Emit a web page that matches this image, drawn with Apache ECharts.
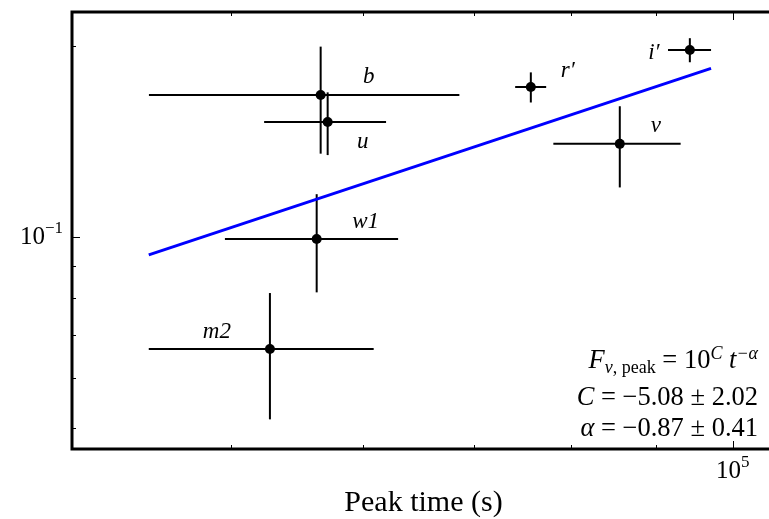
<!DOCTYPE html>
<html>
<head>
<meta charset="utf-8">
<script src="https://cdn.jsdelivr.net/npm/echarts@6/dist/echarts.min.js"></script>
<style>
  html, body { margin: 0; padding: 0; background: #fff; }
  #chart { width: 769px; height: 519px; }
</style>
</head>
<body>
<div id="chart"></div>
<script>
// Peak time and peak flux density per photometric band
const bands       = ['b', 'u', 'w1', 'm2', 'r′', 'i′', 'v'];
const peakTime    = [56600, 57150, 56290, 52770, 75660, 94240, 85550];
const peakTimeErr = [11950, 4800, 6700, 8130, 1620, 2800, 7500];
const peakFlux    = [0.1674, 0.1518, 0.0993, 0.0666, 0.1723, 0.1971, 0.1402];
const peakFluxErr = [0.0321, 0.0172, 0.0175, 0.0150, 0.0094, 0.0086, 0.0205];

// Power-law fit  F = 10^C t^-alpha
const fitC = -5.078;
const fitCErr = 2.02;
const fitAlpha = -0.871;
const fitAlphaErr = 0.41;

// Axis limits and tick positions (data units)
const xAxisRange  = [4.015e4, 1.06e5];
const yAxisRange  = [0.04634, 0.2262];
const xMajorTicks = [1e5];
const xMinorTicks = [5e4, 6e4, 7e4, 8e4, 9e4];
const yMajorTicks = [0.1];
const yMinorTicks = [0.05, 0.06, 0.07, 0.08, 0.09, 0.2];

// Band label placement relative to each point (pixels)
const labelOffset = {
  'b': [48, -18], 'u': [35, 20], 'w1': [49, -17], 'm2': [-53, -17],
  'r′': [37, -16], 'i′': [-36, 3], 'v': [36, -18]
};

const lg = Math.log10;
const SERIF = '"Liberation Serif", "DejaVu Serif", serif';
const minus = s => s.replace('-', '−');

const xr = xAxisRange.map(lg);
const yr = yAxisRange.map(lg);

function makeAxis(base, ticks, len, withLabel, labelTicks, extra, margin) {
  return Object.assign({
    type: 'value',
    min: base[0], max: base[1],
    splitLine: { show: false },
    axisLine: { show: false },
    axisTick: { show: true, inside: true, length: len, customValues: ticks.map(lg),
                lineStyle: { color: '#000', width: 1 } },
    axisLabel: withLabel ? {
      show: true,
      customValues: labelTicks.map(lg),
      margin: margin,
      formatter: v => '{b|10}{s|' + minus(String(Math.round(v))) + '}',
      rich: {
        b: { fontFamily: SERIF, fontSize: 25, color: '#000', lineHeight: 34 },
        s: { fontFamily: SERIF, fontSize: 17, color: '#000', lineHeight: 17, verticalAlign: 'top' }
      }
    } : { show: false }
  }, extra || {});
}

const errData = bands.map((b, i) => [
  lg(peakTime[i]), lg(peakFlux[i]),
  lg(peakTime[i] - peakTimeErr[i]), lg(peakTime[i] + peakTimeErr[i]),
  lg(peakFlux[i] - peakFluxErr[i]), lg(peakFlux[i] + peakFluxErr[i])
]);

const pointData = bands.map((b, i) => ({
  value: [lg(peakTime[i]), lg(peakFlux[i]), b],
  label: { offset: labelOffset[b] }
}));

// Fit line spans the full range covered by the error bars
const tLo = Math.min(...peakTime.map((t, i) => t - peakTimeErr[i]));
const tHi = Math.max(...peakTime.map((t, i) => t + peakTimeErr[i]));
const fitLine = [tLo, tHi].map(t => [lg(t), fitC - fitAlpha * lg(t)]);

const mathRich = {
  mi:  { fontFamily: SERIF, fontStyle: 'italic', fontSize: 26.5, color: '#000', lineHeight: 32 },
  n:   { fontFamily: SERIF, fontSize: 26.5, color: '#000', lineHeight: 32 },
  sup: { fontFamily: SERIF, fontStyle: 'italic', fontSize: 18, color: '#000', lineHeight: 18, verticalAlign: 'top' },
  subi:{ fontFamily: SERIF, fontStyle: 'italic', fontSize: 18, color: '#000', lineHeight: 18, verticalAlign: 'bottom' },
  sub: { fontFamily: SERIF, fontSize: 18, color: '#000', lineHeight: 18, verticalAlign: 'bottom' }
};
const fmt = (v, e) => minus(v.toFixed(2)) + ' ± ' + e.toFixed(2);

const chart = echarts.init(document.getElementById('chart'), null, { renderer: 'canvas' });
chart.setOption({
  animation: false,
  backgroundColor: '#fff',
  grid: { left: 72, top: 12, bottom: 70, right: -6, show: true,
          outerBoundsMode: 'none', containLabel: false,
          borderColor: '#000', borderWidth: 3, backgroundColor: 'transparent' },
  xAxis: [
    makeAxis(xr, xMajorTicks, 8, true, xMajorTicks, {
      position: 'bottom', name: 'Peak time (s)', nameLocation: 'middle', nameGap: 32,
      nameTextStyle: { fontFamily: SERIF, fontSize: 30, color: '#000' }
    }, 5),
    makeAxis(xr, xMinorTicks, 4, false, null, { position: 'bottom' }),
    makeAxis(xr, xMajorTicks, 8, false, null, { position: 'top' }),
    makeAxis(xr, xMinorTicks, 4, false, null, { position: 'top' })
  ],
  yAxis: [
    makeAxis(yr, yMajorTicks, 8, true, yMajorTicks, { position: 'left' }, 9),
    makeAxis(yr, yMinorTicks, 4, false, null, { position: 'left' })
  ],
  series: [
    {
      type: 'custom',
      xAxisIndex: 0, yAxisIndex: 0,
      data: errData,
      z: 2,
      renderItem: (params, api) => {
        const x = api.value(0), y = api.value(1);
        const a = api.coord([api.value(2), y]), b = api.coord([api.value(3), y]);
        const c = api.coord([x, api.value(4)]), d = api.coord([x, api.value(5)]);
        const style = { stroke: '#000', lineWidth: 2 };
        return { type: 'group', children: [
          { type: 'line', shape: { x1: a[0], y1: a[1], x2: b[0], y2: b[1] }, style },
          { type: 'line', shape: { x1: c[0], y1: c[1], x2: d[0], y2: d[1] }, style }
        ] };
      }
    },
    {
      type: 'scatter',
      xAxisIndex: 0, yAxisIndex: 0,
      data: pointData,
      symbol: 'circle', symbolSize: 10,
      itemStyle: { color: '#000', opacity: 1 },
      z: 3,
      label: {
        show: true, position: 'inside',
        formatter: p => p.data.value[2],
        fontFamily: SERIF, fontStyle: 'italic', fontSize: 23, color: '#000',
        textBorderWidth: 0
      }
    },
    {
      type: 'line',
      xAxisIndex: 0, yAxisIndex: 0,
      data: fitLine,
      symbol: 'none',
      lineStyle: { color: '#0000ff', width: 3 },
      z: 4
    }
  ],
  graphic: [
    { type: 'text', right: 11, top: 345, z: 10,
      style: { text: '{mi|F}{subi|ν}{sub|, peak}{n| = 10}{sup|C}{n| }{mi|t}{sup|−α}', rich: mathRich } },
    { type: 'text', right: 11, top: 385, z: 10,
      style: { text: '{mi|C}{n| = ' + fmt(fitC, fitCErr) + '}', rich: mathRich } },
    { type: 'text', right: 11, top: 416, z: 10,
      style: { text: '{mi|α}{n| = ' + fmt(fitAlpha, fitAlphaErr) + '}', rich: mathRich } }
  ]
});
</script>
</body>
</html>
